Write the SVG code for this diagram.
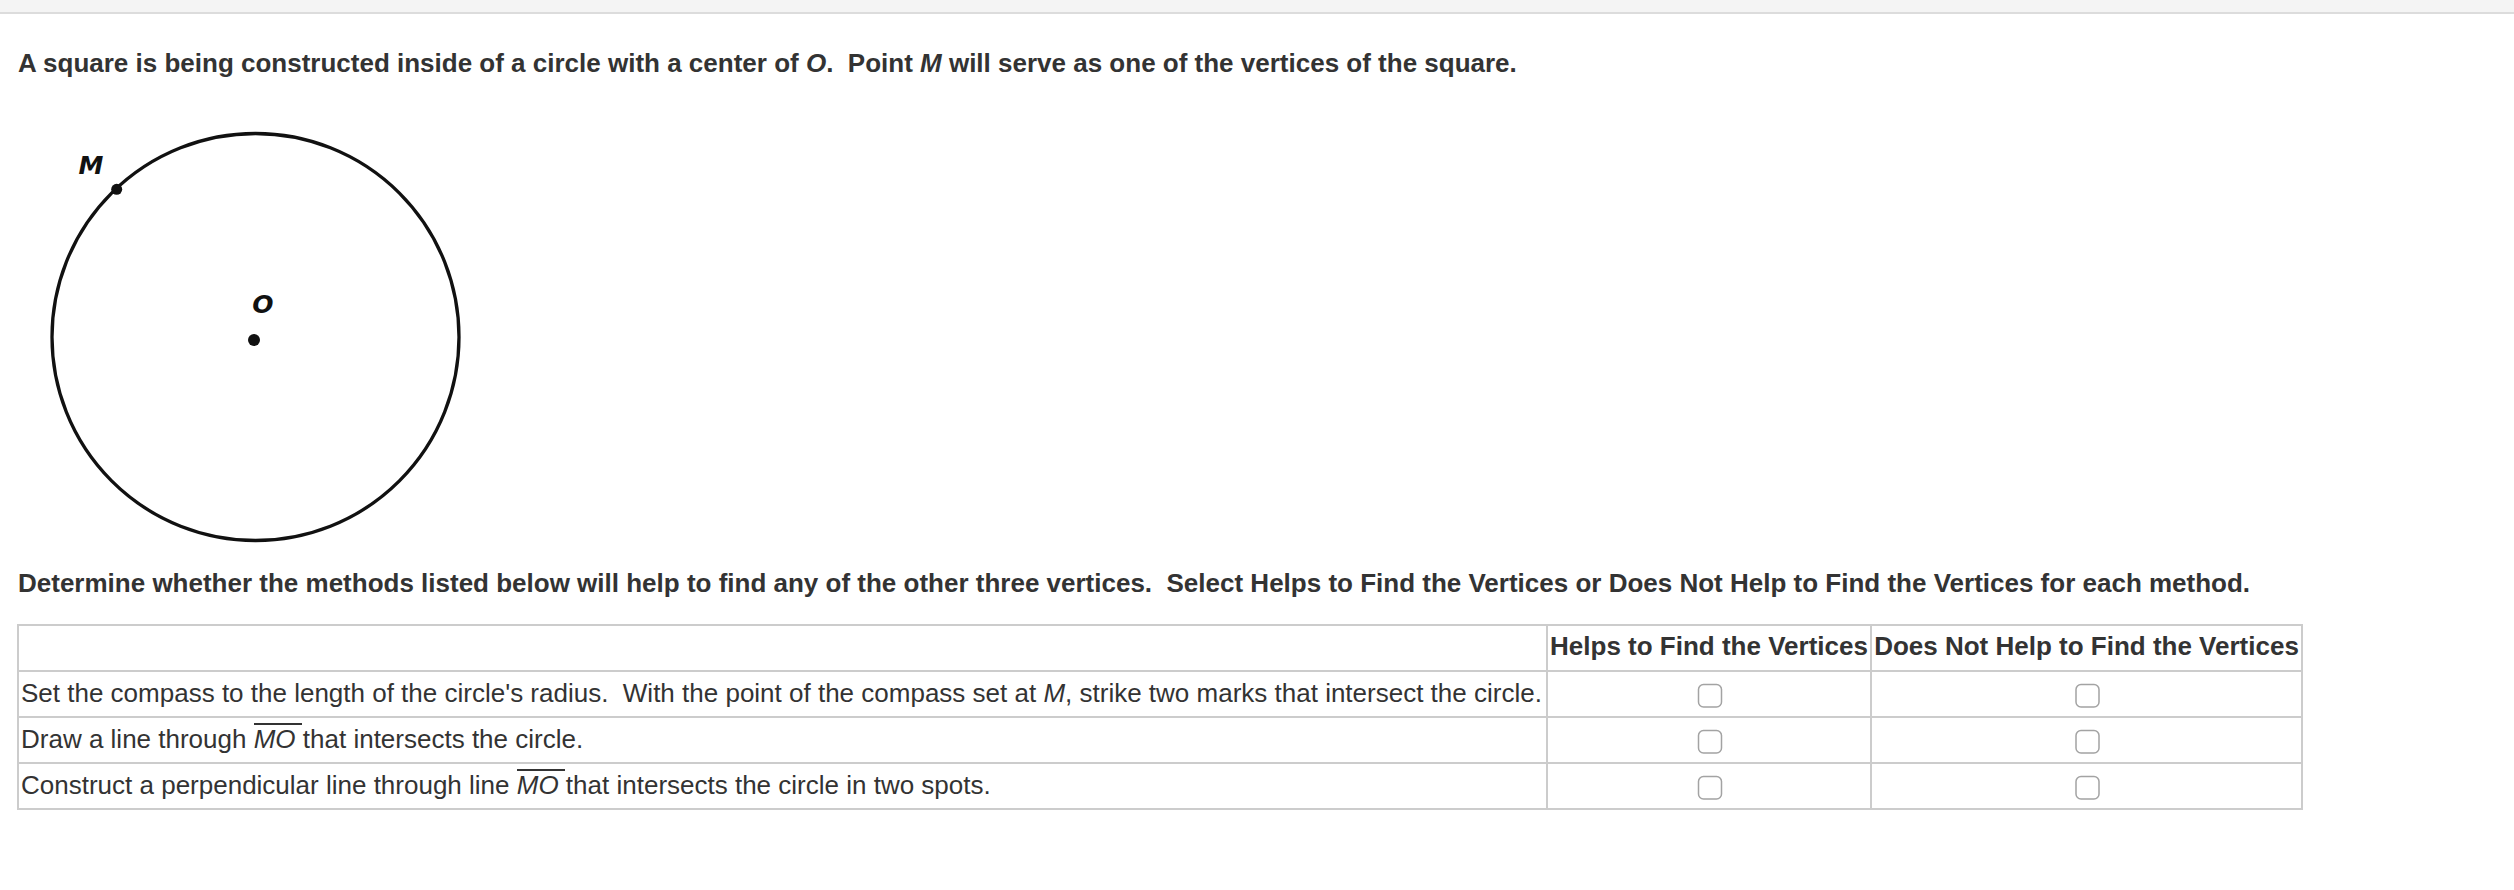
<svg xmlns="http://www.w3.org/2000/svg" width="2514" height="890" viewBox="0 0 2514 890">
<style>
text { font-family: "Liberation Sans", Arial, sans-serif; font-size: 26px; fill: #333; white-space: pre; }
.b { font-weight: bold; }
.i { font-style: italic; }
.lbl { font-family: "DejaVu Sans", sans-serif; font-weight: bold; font-style: italic; font-size: 25px; fill: #111; }
.grid { stroke: #cccccc; stroke-width: 2; fill: none; }
.cb { fill: #ffffff; stroke: #a3a3a3; stroke-width: 1.5; }
.ov { stroke: #333; stroke-width: 2; }
</style>
<rect x="0" y="0" width="2514" height="890" fill="#ffffff"/>
<g id="topbar">
<rect x="0" y="0" width="2514" height="12" fill="#f4f4f4"/>
<line x1="0" y1="13" x2="2514" y2="13" stroke="#dcdcdc" stroke-width="2"/>
</g>
<g id="title">
<text class="b" x="18" y="72">A square is being constructed inside of a circle with a center of <tspan class="i">O</tspan>.  Point <tspan class="i">M</tspan> will serve as one of the vertices of the square.</text>
</g>
<g id="figure">
<circle cx="255.5" cy="337" r="203.5" fill="none" stroke="#111" stroke-width="3.3"/>
<circle id="pointM" cx="116.7" cy="189.3" r="5.5" fill="#111"/>
<circle id="pointO" cx="254" cy="340" r="6" fill="#111"/>
<text class="lbl" x="91" y="174" text-anchor="middle">M</text>
<text class="lbl" x="263" y="313" text-anchor="middle">O</text>
</g>
<g id="instructions">
<text class="b" x="18" y="592">Determine whether the methods listed below will help to find any of the other three vertices.  Select Helps to Find the Vertices or Does Not Help to Find the Vertices for each method.</text>
</g>
<g id="table">
<rect class="grid" x="18" y="625" width="2284" height="184"/>
<line class="grid" x1="18" y1="671" x2="2302" y2="671"/>
<line class="grid" x1="18" y1="717" x2="2302" y2="717"/>
<line class="grid" x1="18" y1="763" x2="2302" y2="763"/>
<line class="grid" x1="1547" y1="625" x2="1547" y2="809"/>
<line class="grid" x1="1871" y1="625" x2="1871" y2="809"/>
<g id="header">
<text class="b" x="1709" y="655" text-anchor="middle">Helps to Find the Vertices</text>
<text class="b" x="2086.5" y="655" text-anchor="middle">Does Not Help to Find the Vertices</text>
</g>
<g id="row1">
<text x="21" y="702">Set the compass to the length of the circle's radius.  With the point of the compass set at <tspan class="i">M</tspan>, strike two marks that intersect the circle.</text>
<rect class="cb" x="1698.5" y="684.5" width="23" height="22.5" rx="5"/>
<rect class="cb" x="2076" y="684.5" width="23" height="22.5" rx="5"/>
</g>
<g id="row2">
<text x="21" y="748">Draw a line through <tspan class="i">MO</tspan> that intersects the circle.</text>
<line class="ov" x1="254" y1="724" x2="302" y2="724"/>
<rect class="cb" x="1698.5" y="730.5" width="23" height="22.5" rx="5"/>
<rect class="cb" x="2076" y="730.5" width="23" height="22.5" rx="5"/>
</g>
<g id="row3">
<text x="21" y="794">Construct a perpendicular line through line <tspan class="i">MO</tspan> that intersects the circle in two spots.</text>
<line class="ov" x1="517" y1="770" x2="565" y2="770"/>
<rect class="cb" x="1698.5" y="776.5" width="23" height="22.5" rx="5"/>
<rect class="cb" x="2076" y="776.5" width="23" height="22.5" rx="5"/>
</g>
</g>
</svg>
